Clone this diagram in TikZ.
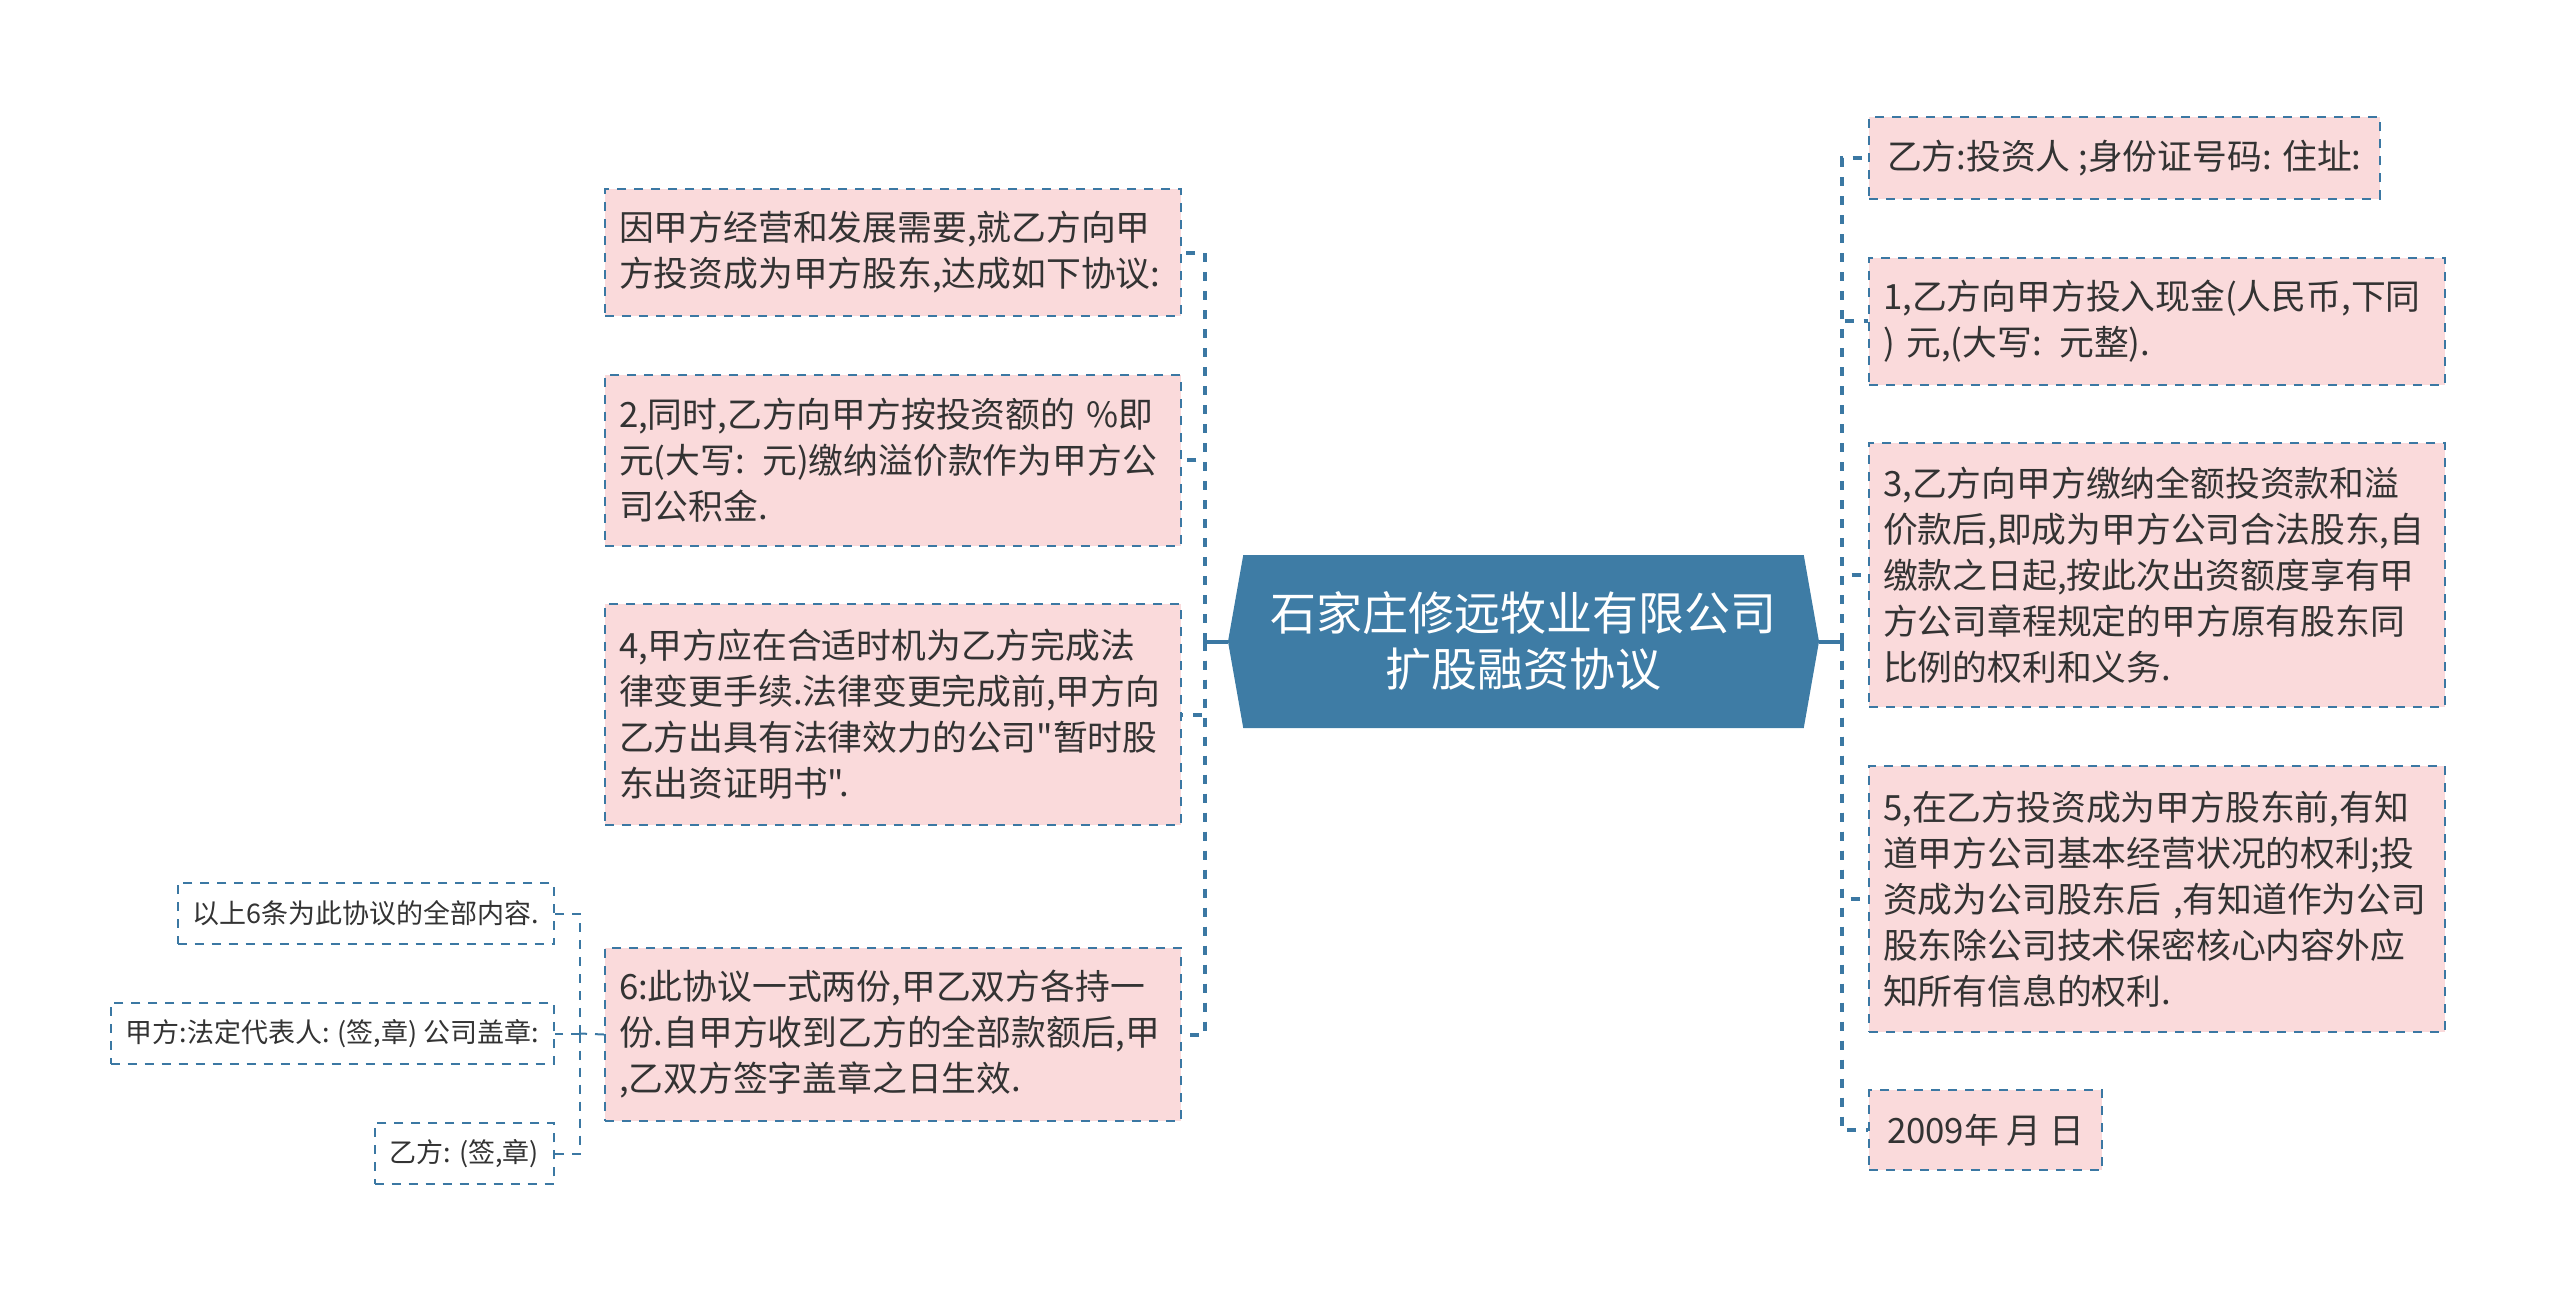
\documentclass[tikz,border=0pt]{standalone}
\usepackage{fontspec}
\setmainfont{Noto Sans CJK SC}[Ligatures=TeXOff]
\usepackage{xcolor}
\usepackage{tikz}
\usetikzlibrary{shapes.symbols, positioning}

\definecolor{linkblue}{HTML}{3B78A3}
\definecolor{rootblue}{HTML}{3E7CA5}
\definecolor{leafpink}{HTML}{FADADB}
\definecolor{inkgray}{HTML}{333333}

\begin{document}
\begin{tikzpicture}[
    x=0.5pt, y=-0.5pt,
    node distance=28.3pt,
    root/.style={signal, signal to=west and east, signal pointer angle=160, fill=rootblue, text=white, font=\fontsize{23}{28}\selectfont, align=center, minimum width=295.5pt, minimum height=86.5pt},
    leaf/.style={rectangle, draw=linkblue, line width=1pt, dash pattern=on 4.5pt off 4pt, fill=leafpink, text=inkgray, font=\fontsize{17.4}{23}\selectfont, align=left, text width=274pt, inner xsep=7pt},
    tag/.style={rectangle, draw=linkblue, line width=1pt, dash pattern=on 4.5pt off 4pt, fill=leafpink, text=inkgray, font=\fontsize{17.4}{23}\selectfont, inner xsep=9pt},
    note/.style={rectangle, draw=linkblue, line width=1pt, dash pattern=on 4.5pt off 4pt, fill=white, text=inkgray, font=\fontsize{13.5}{16}\selectfont, inner xsep=7.5pt, minimum height=30.5pt},
    link/.style={draw=linkblue, line width=2pt, dash pattern=on 4.5pt off 5pt},
    sublink/.style={draw=linkblue, line width=1pt, dash pattern=on 4.5pt off 4pt},
    stub/.style={draw=linkblue, line width=2pt}
]
\useasboundingbox (0,0) rectangle (2560,1301);

% Root
\node[root] (root) at (1523.5,641.5) {石家庄修远牧业有限公司\\扩股融资协议};
\coordinate (ljoin) at (1205,641.5);
\coordinate (rjoin) at (1842,641.5);

% Left branch
\node[leaf, anchor=north west, minimum height=63.5pt] (l1) at (604,188) {因甲方经营和发展需要,就乙方向甲\\方投资成为甲方股东,达成如下协议:};
\node[leaf, below=of l1.south west, anchor=north west, minimum height=85.5pt] (l2) {2,同时,乙方向甲方按投资额的 \%即\\元(大写: 元)缴纳溢价款作为甲方公\\司公积金.};
\node[leaf, below=of l2.south west, anchor=north west, minimum height=110.5pt] (l3) {4,甲方应在合适时机为乙方完成法\\律变更手续.法律变更完成前,甲方向\\乙方出具有法律效力的公司"暂时股\\东出资证明书".};
\node[leaf, anchor=north west, minimum height=86.5pt] (l4) at (604,947) {6:此协议一式两份,甲乙双方各持一\\份.自甲方收到乙方的全部款额后,甲\\,乙双方签字盖章之日生效.};

% Signatures under item 6
\coordinate (sjoin) at (580,1033.5);
\node[note, anchor=east] (s1) at (555,913.5) {以上6条为此协议的全部内容.};
\node[note, anchor=east] (s2) at (555,1033.5) {甲方:法定代表人: (签,章) 公司盖章:};
\node[note, anchor=east] (s3) at (555,1153.5) {乙方: (签,章)};

% Right branch
\node[tag, anchor=north west, minimum height=41pt] (r1) at (1868,116) {乙方:投资人 ;身份证号码: 住址:};
\node[leaf, below=of r1.south west, anchor=north west, minimum height=63.5pt] (r2) {1,乙方向甲方投入现金(人民币,下同\\) 元,(大写: 元整).};
\node[leaf, below=of r2.south west, anchor=north west, minimum height=132pt] (r3) {3,乙方向甲方缴纳全额投资款和溢\\价款后,即成为甲方公司合法股东,自\\缴款之日起,按此次出资额度享有甲\\方公司章程规定的甲方原有股东同\\比例的权利和义务.};
\node[leaf, below=of r3.south west, anchor=north west, minimum height=133pt] (r4) {5,在乙方投资成为甲方股东前,有知\\道甲方公司基本经营状况的权利;投\\资成为公司股东后 ,有知道作为公司\\股东除公司技术保密核心内容外应\\知所有信息的权利.};
\node[tag, below=of r4.south west, anchor=north west, minimum height=40pt] (r5) {2009年 月 日};

% Connectors
\draw[stub] (root.west) -- (ljoin);
\foreach \n in {l1,l2,l3,l4}
    \draw[link] (ljoin) |- (\n.east);
\draw[stub] (root.east) -- (rjoin);
\foreach \n in {r1,r2,r3,r4,r5}
    \draw[link] (rjoin) |- (\n.west);
\draw[sublink] (l4.west) -- (sjoin);
\foreach \n in {s1,s2,s3}
    \draw[sublink] (sjoin) |- (\n.east);

\end{tikzpicture}
\end{document}
